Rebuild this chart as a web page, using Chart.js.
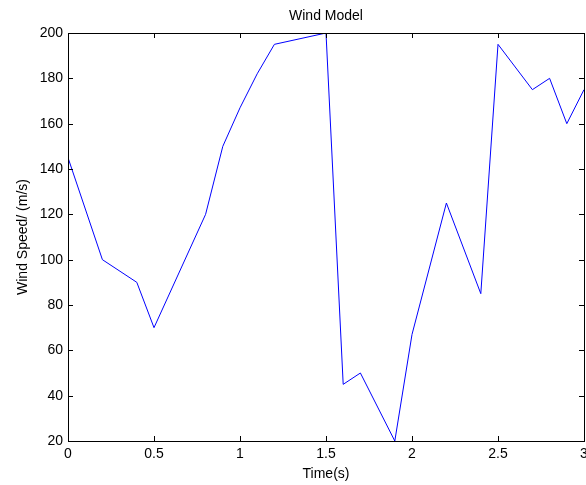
<!DOCTYPE html>
<html>
<head>
<meta charset="utf-8">
<script src="https://cdn.jsdelivr.net/npm/chart.js@4/dist/chart.umd.min.js"></script>
<style>
  body { margin: 0; background: #fff; }
  #wrap { width: 586px; height: 485px; }
</style>
</head>
<body>
<div id="wrap"><canvas id="wind-chart" width="586" height="485"></canvas></div>
<script>
// values
const times  = [0, 0.2, 0.4, 0.5, 0.8, 0.9, 1.0, 1.1, 1.2, 1.5, 1.6, 1.7, 1.9, 2.0, 2.2, 2.4, 2.5, 2.7, 2.8, 2.9, 3.0];
const speeds = [145, 100, 90, 70, 120, 150, 167, 182, 195, 200, 45, 50, 20, 67, 125, 85, 195, 175, 180, 160, 175];
const xTicks = [0, 0.5, 1, 1.5, 2, 2.5, 3];
const yTicks = [20, 40, 60, 80, 100, 120, 140, 160, 180, 200];

const font = { family: '"Liberation Sans", Arial, sans-serif', size: 14 };

// matlab style box with inward tick marks
const boxPlugin = {
    id: 'matlabBox',
    afterDraw(chart) {
        const { ctx, chartArea: a, scales } = chart;
        const len = 5;
        ctx.save();
        ctx.strokeStyle = '#000';
        ctx.lineWidth = 1;
        ctx.beginPath();
        xTicks.forEach(v => {
            const x = Math.round(scales.x.getPixelForValue(v)) + 0.5;
            ctx.moveTo(x, a.bottom); ctx.lineTo(x, a.bottom - len);
            ctx.moveTo(x, a.top); ctx.lineTo(x, a.top + len);
        });
        yTicks.forEach(v => {
            const y = Math.round(scales.y.getPixelForValue(v)) + 0.5;
            ctx.moveTo(a.left, y); ctx.lineTo(a.left + len, y);
            ctx.moveTo(a.right, y); ctx.lineTo(a.right - len, y);
        });
        ctx.stroke();
        ctx.strokeRect(Math.round(a.left) + 0.5, Math.round(a.top) + 0.5,
            Math.round(a.right - a.left), Math.round(a.bottom - a.top));
        ctx.restore();
    }
};

new Chart(document.querySelector('#wind-chart').getContext('2d'), {
    type: 'line',
    data: {
        datasets: [{
            data: times.map((t, i) => ({ x: t, y: speeds[i] })),
            borderColor: '#0000ff',
            borderWidth: 1,
            pointRadius: 0,
            tension: 0,
            fill: false
        }]
    },
    options: {
        responsive: false,
        animation: false,
        events: [],
        layout: { padding: { left: 0, right: 2, top: 0, bottom: 0 } },
        plugins: {
            legend: { display: false },
            tooltip: { enabled: false },
            title: {
                display: true,
                text: 'Wind Model',
                color: '#000',
                font: { ...font, weight: 'normal' },
                fullSize: false,
                padding: { top: 8, bottom: 8.2 }
            }
        },
        scales: {
            x: {
                type: 'linear',
                min: 0,
                max: 3,
                afterBuildTicks: s => { s.ticks = xTicks.map(v => ({ value: v })); },
                afterFit: s => { s.height = 44; s.paddingLeft = 0; s.paddingRight = 0; },
                grid: { display: false, drawTicks: false },
                border: { display: false },
                ticks: { color: '#000', font, padding: 5, maxRotation: 0, autoSkip: false,
                    callback: v => String(v) },
                title: { display: true, text: 'Time(s)', color: '#000', font, padding: { top: 0, bottom: 2.6 } }
            },
            y: {
                min: 20,
                max: 200,
                afterBuildTicks: s => { s.ticks = yTicks.map(v => ({ value: v })); },
                afterFit: s => { s.width = 68; },
                grid: { display: false, drawTicks: false },
                border: { display: false },
                ticks: { color: '#000', font, padding: 5, autoSkip: false },
                title: { display: true, text: 'Wind Speed/ (m/s)', color: '#000', font, padding: { top: 14.6, bottom: 0 } }
            }
        }
    },
    plugins: [boxPlugin]
});
</script>
</body>
</html>
